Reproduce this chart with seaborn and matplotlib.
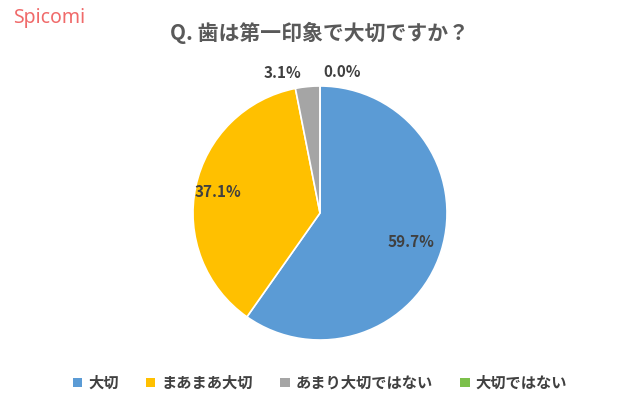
import numpy as np
import matplotlib
matplotlib.use("Agg")
import matplotlib.pyplot as plt
import seaborn as sns
from matplotlib.patches import Patch

categories = ["大切", "まあまあ大切", "あまり大切ではない", "大切ではない"]
values = [59.7, 37.1, 3.1, 0.0]
colors = ["#5B9BD5", "#FFC000", "#A5A5A5", "#7CC04B"]

sns.set_theme(style="white")
plt.rcParams['font.family'] = ['Noto Sans CJK JP', 'DejaVu Sans']

fig = plt.figure(figsize=(6.4, 4.12), dpi=100)
ax = fig.add_axes([0.5 - 127/640, 1 - (213+127)/412, 254/640, 254/412])
wedges, _ = ax.pie(values, colors=colors, startangle=90, counterclock=False,
                   wedgeprops=dict(edgecolor="white", linewidth=1.2))
ax.set_aspect("equal")
ax.set_xlim(-1, 1); ax.set_ylim(-1, 1)

radii = [0.75, 0.82, 1.11, 1.11]
offsets = [0, 0, -0.09, 0.09]
cum = 0
for v, r, off in zip(values, radii, offsets):
    mid = 90 - (cum + v / 2) * 3.6
    cum += v
    a = np.deg2rad(mid)
    ax.text(r * np.cos(a) + off * 2, r * np.sin(a), f"{v:.1f}%", ha="center", va="center",
            fontsize=11, fontweight="bold", color="#404040")

fig.text(0.5, 1 - 33/412, "Q. 歯は第一印象で大切ですか？", ha="center", va="center",
         fontsize=15, fontweight="bold", color="#595959")
fig.text(0.02, 1 - 18/412, "Spicomi", ha="left", va="center", fontsize=14,
         color="#F06A6A", family=["Noto Sans", "DejaVu Sans"])

handles = [Patch(facecolor=c, edgecolor="none") for c in colors]
leg = fig.legend(handles, categories, loc="center", bbox_to_anchor=(0.5, 1 - 383/412), ncol=4,
           frameon=False, fontsize=11, handlelength=0.6, handleheight=0.6,
           handletextpad=0.4, columnspacing=1.8, labelcolor="#404040")
for t in leg.get_texts():
    t.set_fontweight("bold")
fig.savefig("out.png", dpi=100)
